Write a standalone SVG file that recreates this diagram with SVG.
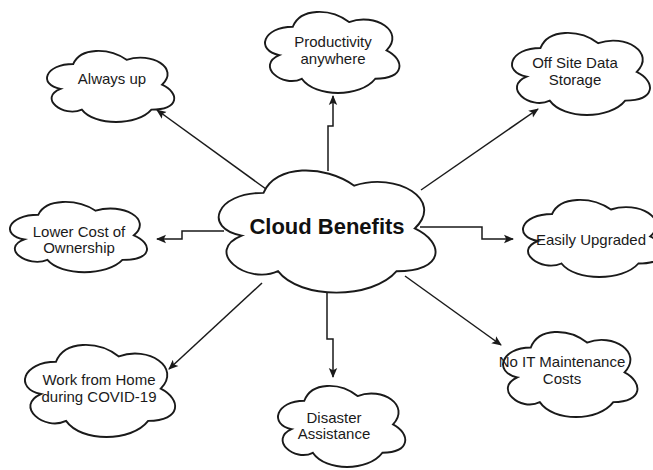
<svg xmlns="http://www.w3.org/2000/svg" width="653" height="470" viewBox="0 0 653 470">
  <defs>
    <marker id="arrow" viewBox="0 0 10 10" refX="9" refY="5" markerWidth="10" markerHeight="10" markerUnits="userSpaceOnUse" orient="auto">
      <path d="M0,0.8 L10,5 L0,9.2 L2.2,5 Z" fill="#1a1a1a"/>
    </marker>
  </defs>
  <style>
    .cloud { fill: #ffffff; stroke: #1a1a1a; stroke-width: 1.9; vector-effect: non-scaling-stroke; }
    .edge { fill: none; stroke: #1a1a1a; stroke-width: 1.5; marker-end: url(#arrow); }
    .label { font-family: "Liberation Sans", Arial, sans-serif; font-size: 15px; fill: #1a1a1a; text-anchor: middle; }
    .title { font-family: "Liberation Sans", Arial, sans-serif; font-size: 22px; font-weight: bold; fill: #111111; text-anchor: middle; }
  </style>
  <rect width="653" height="470" fill="#ffffff"/>

  <!-- connectors -->
  <g id="connectors">
    <path class="edge" d="M266,189 L157,110"/>
    <path class="edge" d="M328,171 V126 H333 V96"/>
    <path class="edge" d="M421,190 L538,109"/>
    <path class="edge" d="M224,231 H182 V239 H157"/>
    <path class="edge" d="M420,227 H482 V239 H513"/>
    <path class="edge" d="M327,291 V339 H333 V377"/>
    <path class="edge" d="M262,283 L169,369"/>
    <path class="edge" d="M405,276 L501,345"/>
  </g>

  <!-- unit cloud outline: 100 x 100 box, scaled per node -->
  <g id="node-center">
    <path class="cloud" transform="translate(203,157.2) scale(2.42,1.425)" d="M25,25 C5,25 0,50 16,55 C0,66 18,90 31,80 C40,100 70,100 80,80 C100,80 100,60 87.5,50 C100,30 80,10 62.5,20 C50,5 30,5 25,25 Z"/>
    <text class="title" x="327" y="234">Cloud Benefits</text>
  </g>

  <g id="node-always-up">
    <path class="cloud" transform="translate(37.8,43.2) scale(1.42,0.83)" d="M25,25 C5,25 0,50 16,55 C0,66 18,90 31,80 C40,100 70,100 80,80 C100,80 100,60 87.5,50 C100,30 80,10 62.5,20 C50,5 30,5 25,25 Z"/>
    <text class="label" x="112" y="84">Always up</text>
  </g>

  <g id="node-productivity">
    <path class="cloud" transform="translate(255.3,3.1) scale(1.5,0.946)" d="M25,25 C5,25 0,50 16,55 C0,66 18,90 31,80 C40,100 70,100 80,80 C100,80 100,60 87.5,50 C100,30 80,10 62.5,20 C50,5 30,5 25,25 Z"/>
    <text class="label" x="333" y="47">Productivity</text>
    <text class="label" x="333" y="64">anywhere</text>
  </g>

  <g id="node-offsite">
    <path class="cloud" transform="translate(502,24) scale(1.54,0.958)" d="M25,25 C5,25 0,50 16,55 C0,66 18,90 31,80 C40,100 70,100 80,80 C100,80 100,60 87.5,50 C100,30 80,10 62.5,20 C50,5 30,5 25,25 Z"/>
    <text class="label" x="575" y="68">Off Site Data</text>
    <text class="label" x="575" y="85">Storage</text>
  </g>

  <g id="node-lower-cost">
    <path class="cloud" transform="translate(0,194.3) scale(1.53,0.82)" d="M25,25 C5,25 0,50 16,55 C0,66 18,90 31,80 C40,100 70,100 80,80 C100,80 100,60 87.5,50 C100,30 80,10 62.5,20 C50,5 30,5 25,25 Z"/>
    <text class="label" x="79" y="237">Lower Cost of</text>
    <text class="label" x="79" y="253">Ownership</text>
  </g>

  <g id="node-upgraded">
    <path class="cloud" transform="translate(512.8,191.5) scale(1.57,0.9)" d="M25,25 C5,25 0,50 16,55 C0,66 18,90 31,80 C40,100 70,100 80,80 C100,80 100,60 87.5,50 C100,30 80,10 62.5,20 C50,5 30,5 25,25 Z"/>
    <text class="label" x="591" y="245">Easily Upgraded</text>
  </g>

  <g id="node-disaster">
    <path class="cloud" transform="translate(268.8,377.1) scale(1.42,0.946)" d="M25,25 C5,25 0,50 16,55 C0,66 18,90 31,80 C40,100 70,100 80,80 C100,80 100,60 87.5,50 C100,30 80,10 62.5,20 C50,5 30,5 25,25 Z"/>
    <text class="label" x="334" y="423">Disaster</text>
    <text class="label" x="334" y="439">Assistance</text>
  </g>

  <g id="node-work-home">
    <path class="cloud" transform="translate(14.1,334.9) scale(1.676,1.075)" d="M25,25 C5,25 0,50 16,55 C0,66 18,90 31,80 C40,100 70,100 80,80 C100,80 100,60 87.5,50 C100,30 80,10 62.5,20 C50,5 30,5 25,25 Z"/>
    <text class="label" x="99" y="385">Work from Home</text>
    <text class="label" x="99" y="402">during COVID-19</text>
  </g>

  <g id="node-no-it">
    <path class="cloud" transform="translate(493.3,322.7) scale(1.5,0.993)" d="M25,25 C5,25 0,50 16,55 C0,66 18,90 31,80 C40,100 70,100 80,80 C100,80 100,60 87.5,50 C100,30 80,10 62.5,20 C50,5 30,5 25,25 Z"/>
    <text class="label" x="562" y="367">No IT Maintenance</text>
    <text class="label" x="562" y="384">Costs</text>
  </g>
</svg>
